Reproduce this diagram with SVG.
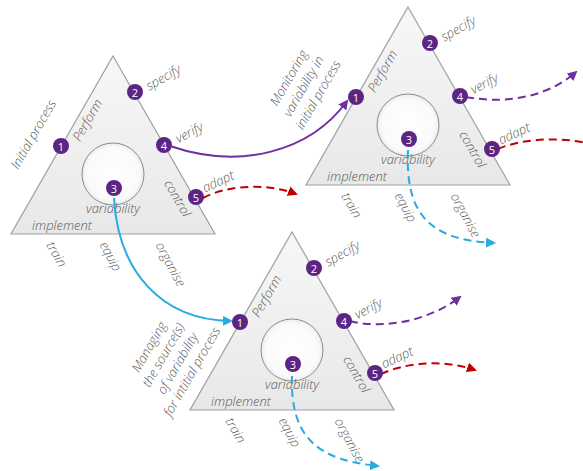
<svg xmlns="http://www.w3.org/2000/svg" width="583" height="471" viewBox="0 0 583 471">
<defs>
<linearGradient id="triFill" x1="0" y1="0" x2="0" y2="1">
<stop offset="0" stop-color="#f7f7f7"/>
<stop offset="1" stop-color="#e8e8e8"/>
</linearGradient>
<radialGradient id="circFill" cx="0.5" cy="0.5" r="0.5">
<stop offset="0" stop-color="#ffffff"/>
<stop offset="0.85" stop-color="#fafafa"/>
<stop offset="1" stop-color="#ededed"/>
</radialGradient>
<marker id="arrP" viewBox="0 0 10 10" refX="8" refY="5" markerWidth="5" markerHeight="5" orient="auto" markerUnits="strokeWidth"><path d="M0,0 L10,5 L0,10 Z" fill="#7030a0"/></marker>
<marker id="arrR" viewBox="0 0 10 10" refX="8" refY="5" markerWidth="5" markerHeight="5" orient="auto" markerUnits="strokeWidth"><path d="M0,0 L10,5 L0,10 Z" fill="#c00000"/></marker>
<marker id="arrC" viewBox="0 0 10 10" refX="8" refY="5" markerWidth="5" markerHeight="5" orient="auto" markerUnits="strokeWidth"><path d="M0,0 L10,5 L0,10 Z" fill="#29abe2"/></marker>
</defs>
<style>
.tri{fill:url(#triFill);stroke:#a0a0a0;stroke-width:1.2}
.circ{fill:url(#circFill);stroke:#8c8c8c;stroke-width:1}
.badge{fill:#5c2483}
.num{font-family:"Open Sans","DejaVu Sans",sans-serif;font-size:11px;fill:#ffffff;text-anchor:middle;dominant-baseline:central}
.lbl{font-family:"Open Sans","DejaVu Sans",sans-serif;font-style:italic;font-weight:300;font-size:13px;fill:#595959;text-anchor:middle;dominant-baseline:central}
.side{font-family:"Open Sans","DejaVu Sans",sans-serif;font-style:italic;font-weight:300;font-size:13px;fill:#595959;text-anchor:middle;dominant-baseline:central}
.c{fill:none;stroke-width:2}
.pur{stroke:#7030a0}
.red{stroke:#c00000}
.cya{stroke:#29abe2}
.dash{stroke-dasharray:8 5}
</style>

<g id="node1" transform="translate(113,56)">
<path class="tri" d="M0,0 L102,178 L-102,178 Z"/>
<circle class="circ" cx="0" cy="118" r="31"/>
<text class="lbl" transform="translate(-26,64) rotate(-60)">Perform</text>
<text class="lbl" transform="translate(50,21) rotate(-30)">specify</text>
<text class="lbl" transform="translate(76,76) rotate(-28)">verify</text>
<text class="lbl" transform="translate(65,142) rotate(60)">control</text>
<text class="lbl" transform="translate(105,125) rotate(-25)">adapt</text>
<text class="lbl" x="0" y="152">variability</text>
<text class="lbl" x="-51" y="169">implement</text>
<text class="lbl" transform="translate(-56,198) rotate(60)">train</text>
<text class="lbl" transform="translate(-2,200) rotate(62)">equip</text>
<text class="lbl" transform="translate(58,208) rotate(62)">organise</text>
<circle class="badge" cx="-52" cy="90" r="8"/><text class="num" x="-52" y="90">1</text>
<circle class="badge" cx="22" cy="36" r="8"/><text class="num" x="22" y="36">2</text>
<circle class="badge" cx="1" cy="132" r="8"/><text class="num" x="1" y="132">3</text>
<circle class="badge" cx="51" cy="89" r="8"/><text class="num" x="51" y="89">4</text>
<circle class="badge" cx="83" cy="141" r="8"/><text class="num" x="83" y="141">5</text>
</g>

<g id="node2" transform="translate(408,7)">
<path class="tri" d="M0,0 L102,178 L-102,178 Z"/>
<circle class="circ" cx="0" cy="118" r="31"/>
<text class="lbl" transform="translate(-26,64) rotate(-60)">Perform</text>
<text class="lbl" transform="translate(50,21) rotate(-30)">specify</text>
<text class="lbl" transform="translate(76,76) rotate(-28)">verify</text>
<text class="lbl" transform="translate(65,142) rotate(60)">control</text>
<text class="lbl" transform="translate(106,126) rotate(-25)">adapt</text>
<text class="lbl" x="0" y="152">variability</text>
<text class="lbl" x="-51" y="169">implement</text>
<text class="lbl" transform="translate(-56,198) rotate(60)">train</text>
<text class="lbl" transform="translate(-2,200) rotate(62)">equip</text>
<text class="lbl" transform="translate(58,208) rotate(62)">organise</text>
</g>

<g id="node3" transform="translate(292,232)">
<path class="tri" d="M0,0 L102,178 L-102,178 Z"/>
<circle class="circ" cx="0" cy="118" r="31"/>
<text class="lbl" transform="translate(-26,64) rotate(-60)">Perform</text>
<text class="lbl" transform="translate(50,21) rotate(-30)">specify</text>
<text class="lbl" transform="translate(76,76) rotate(-28)">verify</text>
<text class="lbl" transform="translate(65,142) rotate(60)">control</text>
<text class="lbl" transform="translate(105,125) rotate(-25)">adapt</text>
<text class="lbl" x="0" y="152">variability</text>
<text class="lbl" x="-51" y="169">implement</text>
<text class="lbl" transform="translate(-56,198) rotate(60)">train</text>
<text class="lbl" transform="translate(-2,200) rotate(62)">equip</text>
<text class="lbl" transform="translate(58,208) rotate(62)">organise</text>
</g>

<g id="side-labels">
<text class="side" transform="translate(33,134) rotate(-60)">Initial process</text>
<text class="side" transform="translate(303,86) rotate(-60)"><tspan x="0" y="-17">Monitoring</tspan><tspan x="0" y="0">variability in</tspan><tspan x="0" y="17">initial process</tspan></text>
<text class="side" transform="translate(170,359) rotate(-60)"><tspan x="0" y="-24.75">Managing</tspan><tspan x="0" y="-8.25">the source(s)</tspan><tspan x="0" y="8.25">of variability</tspan><tspan x="0" y="24.75">for intitial process</tspan></text>
</g>

<g id="connectors">
<path class="c pur" d="M170,146 C240,170 310,152 347,101" marker-end="url(#arrP)"/>
<path class="c cya" d="M114,198 C118,270 160,320 231,321" marker-end="url(#arrC)"/>
<path class="c red dash" d="M203,198 C225,186 265,182 296,194" marker-end="url(#arrR)"/>
<path class="c pur dash" d="M466,97 C510,105 550,95 576,72" marker-end="url(#arrP)"/>
<path class="c red dash" d="M498,149 C520,139 560,136 590,144"/>
<path class="c cya dash" d="M408,150 C405,215 430,240 494,243" marker-end="url(#arrC)"/>
<path class="c pur dash" d="M350,321 C385,330 430,320 460,297" marker-end="url(#arrP)"/>
<path class="c red dash" d="M381,374 C402,364 440,358 475,370" marker-end="url(#arrR)"/>
<path class="c cya dash" d="M292,376 C290,440 320,460 378,466" marker-end="url(#arrC)"/>
</g>

<g id="badges-top">
<g transform="translate(408,7)">
<circle class="badge" cx="-52" cy="90" r="8"/><text class="num" x="-52" y="90">1</text>
<circle class="badge" cx="22" cy="36" r="8"/><text class="num" x="22" y="36">2</text>
<circle class="badge" cx="1" cy="132" r="8"/><text class="num" x="1" y="132">3</text>
<circle class="badge" cx="52" cy="89" r="8"/><text class="num" x="52" y="89">4</text>
<circle class="badge" cx="84" cy="142" r="8"/><text class="num" x="84" y="142">5</text>
</g>
<g transform="translate(292,232)">
<circle class="badge" cx="-52" cy="90" r="8"/><text class="num" x="-52" y="90">1</text>
<circle class="badge" cx="22" cy="36" r="8"/><text class="num" x="22" y="36">2</text>
<circle class="badge" cx="1" cy="132" r="8"/><text class="num" x="1" y="132">3</text>
<circle class="badge" cx="52" cy="89" r="8"/><text class="num" x="52" y="89">4</text>
<circle class="badge" cx="83" cy="141" r="8"/><text class="num" x="83" y="141">5</text>
</g>
</g>
</svg>
